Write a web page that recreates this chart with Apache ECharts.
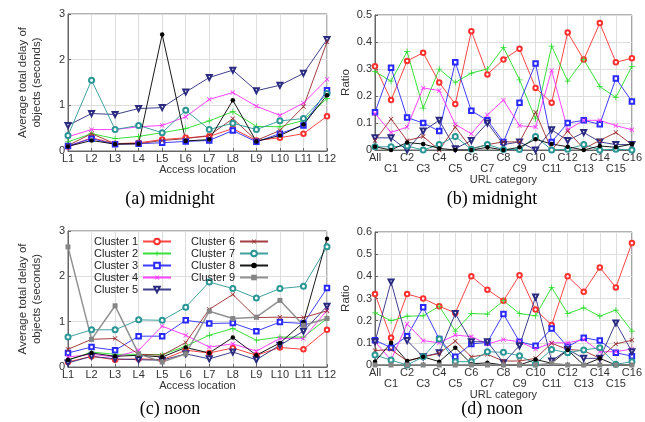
<!DOCTYPE html>
<html>
<head>
<meta charset="utf-8">
<script src="https://cdn.jsdelivr.net/npm/echarts@6/dist/echarts.min.js"></script>
<style>
  html, body { margin: 0; padding: 0; background: #fff; }
  #chart { width: 645px; height: 422px; }
</style>
</head>
<body>
<div id="chart"></div>
<script>
const locations = ['L1', 'L2', 'L3', 'L4', 'L5', 'L6', 'L7', 'L8', 'L9', 'L10', 'L11', 'L12'];
const urlCats = ['All', 'C1', 'C2', 'C3', 'C4', 'C5', 'C6', 'C7', 'C8', 'C9', 'C10', 'C11', 'C12', 'C13', 'C14', 'C15', 'C16'];
const clusterNames = ['Cluster 1', 'Cluster 2', 'Cluster 3', 'Cluster 4', 'Cluster 5', 'Cluster 6', 'Cluster 7', 'Cluster 8', 'Cluster 9'];

// (a) midnight, delay per access location, one row per cluster
const delayMidnight = [
  [0.10, 0.29, 0.16, 0.18, 0.25, 0.29, 0.32, 0.49, 0.23, 0.29, 0.38, 0.76],
  [0.20, 0.38, 0.27, 0.32, 0.40, 0.49, 0.66, 0.86, 0.54, 0.53, 0.67, 1.15],
  [0.11, 0.27, 0.15, 0.16, 0.18, 0.21, 0.23, 0.45, 0.20, 0.38, 0.56, 1.33],
  [0.31, 0.47, 0.47, 0.53, 0.56, 0.75, 1.13, 1.28, 0.98, 0.78, 1.05, 1.57],
  [0.56, 0.82, 0.80, 0.93, 0.95, 1.29, 1.61, 1.77, 1.32, 1.44, 1.70, 2.44],
  [0.12, 0.38, 0.16, 0.16, 0.23, 0.27, 0.34, 0.71, 0.23, 0.45, 0.97, 2.39],
  [0.34, 1.55, 0.47, 0.56, 0.40, 0.89, 0.47, 0.61, 0.47, 0.66, 0.71, 1.26],
  [0.10, 0.23, 0.15, 0.16, 2.55, 0.22, 0.25, 1.11, 0.21, 0.34, 0.58, 1.22],
  null
];

// (b) midnight, ratio per URL category
const ratioMidnight = [
  [0.31, 0.185, 0.33, 0.36, 0.25, 0.17, 0.44, 0.28, 0.335, 0.375, 0.23, 0.175, 0.435, 0.335, 0.47, 0.325, 0.34],
  [0.29, 0.255, 0.365, 0.155, 0.30, 0.25, 0.285, 0.30, 0.38, 0.26, 0.115, 0.385, 0.255, 0.335, 0.235, 0.195, 0.31],
  [0.14, 0.305, 0.12, 0.10, 0.07, 0.325, 0.145, 0.11, 0.03, 0.175, 0.32, 0.03, 0.10, 0.11, 0.095, 0.265, 0.18],
  [0.135, 0.065, 0.085, 0.23, 0.22, 0.095, 0.06, 0.13, 0.185, 0.09, 0.085, 0.295, 0.075, 0.11, 0.11, 0.09, 0.075],
  [0.045, 0.045, 0.0, 0.07, 0.11, 0.005, 0.035, 0.10, 0.02, 0.03, 0.0, 0.075, 0.035, 0.065, 0.03, 0.02, 0.02],
  [0.035, 0.115, 0.035, 0.05, 0.0, 0.085, 0.005, 0.02, 0.03, 0.03, 0.14, 0.0, 0.07, 0.005, 0.035, 0.065, 0.02],
  [0.012, 0.012, 0.015, 0.0, 0.02, 0.05, 0.003, 0.02, 0.002, 0.002, 0.05, 0.0, 0.003, 0.02, 0.0, 0.003, 0.0],
  [0.012, 0.0, 0.028, 0.022, 0.006, 0.0, 0.0, 0.01, 0.0, 0.01, 0.04, 0.022, 0.012, 0.0, 0.015, 0.01, 0.022],
  null
];

// (c) noon
const delayNoon = [
  [0.11, 0.235, 0.16, 0.18, 0.16, 0.37, 0.31, 0.42, 0.26, 0.43, 0.39, 0.82],
  [0.15, 0.33, 0.28, 0.28, 0.27, 0.46, 0.70, 0.85, 0.59, 0.66, 0.66, 1.07],
  [0.31, 0.44, 0.37, 0.68, 0.68, 1.03, 0.96, 0.97, 0.79, 0.99, 0.96, 1.74],
  [0.22, 0.28, 0.22, 0.37, 0.90, 0.70, 0.44, 0.51, 0.35, 0.63, 0.63, 1.25],
  [0.09, 0.235, 0.18, 0.16, 0.15, 0.29, 0.18, 0.33, 0.16, 0.48, 0.79, 1.34],
  [0.39, 0.61, 0.63, 0.28, 0.26, 0.54, 1.27, 1.60, 1.09, 1.10, 1.09, 1.24],
  [0.66, 0.82, 0.82, 1.04, 1.03, 1.32, 1.875, 1.73, 1.52, 1.73, 1.78, 2.65],
  [0.16, 0.31, 0.235, 0.26, 0.22, 0.43, 0.31, 0.65, 0.26, 0.53, 0.985, 2.83],
  [2.65, 0.61, 1.35, 0.29, 0.11, 0.29, 1.23, 1.07, 1.10, 1.47, 0.92, 1.07]
];

// (d) noon
const ratioNoon = [
  [0.32, 0.123, 0.32, 0.30, 0.265, 0.235, 0.40, 0.34, 0.29, 0.405, 0.25, 0.18, 0.40, 0.33, 0.44, 0.35, 0.55],
  [0.235, 0.20, 0.22, 0.222, 0.265, 0.153, 0.232, 0.23, 0.29, 0.232, 0.222, 0.35, 0.232, 0.258, 0.22, 0.248, 0.153],
  [0.112, 0.078, 0.13, 0.26, 0.117, 0.037, 0.095, 0.102, 0.23, 0.105, 0.087, 0.165, 0.082, 0.123, 0.11, 0.055, 0.04],
  [0.105, 0.022, 0.185, 0.11, 0.10, 0.135, 0.128, 0.095, 0.115, 0.105, 0.072, 0.10, 0.10, 0.115, 0.06, 0.06, 0.072],
  [0.105, 0.375, 0.11, 0.037, 0.055, 0.232, 0.105, 0.105, 0.01, 0.087, 0.307, 0.018, 0.07, 0.03, 0.03, 0.19, 0.06],
  [0.065, 0.07, 0.018, 0.037, 0.052, 0.108, 0.037, 0.048, 0.018, 0.018, 0.03, 0.098, 0.07, 0.065, 0.03, 0.095, 0.112],
  [0.045, 0.022, 0.0, 0.037, 0.117, 0.015, 0.015, 0.06, 0.057, 0.042, 0.005, 0.07, 0.055, 0.068, 0.078, 0.003, 0.015],
  [0.015, 0.10, 0.018, 0.037, 0.015, 0.078, 0.005, 0.01, 0.0, 0.0, 0.025, 0.008, 0.068, 0.0, 0.03, 0.0, 0.0],
  [0.0, 0.0, 0.0, 0.0, 0.0, 0.0, 0.0, 0.0, 0.0, 0.0, 0.0, 0.008, 0.0, 0.0, 0.0, 0.0, 0.0]
];

const PLUS = 'path://M4.4,0H5.6V4.4H10V5.6H5.6V10H4.4V5.6H0V4.4H4.4Z';
const styles = [
  { color: '#ff3030', symbol: 'emptyCircle', rot: 0, size: 4.5 },
  { color: '#22dd22', symbol: PLUS, rot: 0, size: 6 },
  { color: '#2828ff', symbol: 'emptyRect', rot: 0, size: 4.5 },
  { color: '#ff30ff', symbol: PLUS, rot: 45, size: 6 },
  { color: '#2a2a80', symbol: 'emptyTriangle', rot: 180, size: 5 },
  { color: '#9a2a2a', symbol: PLUS, rot: 45, size: 6 },
  { color: '#2a9696', symbol: 'emptyCircle', rot: 0, size: 5 },
  { color: '#000000', symbol: 'circle', rot: 0, size: 4.5 },
  { color: '#858585', symbol: 'rect', rot: 0, size: 5 }
];

const font = 'Liberation Sans, Arial, sans-serif';
const grids = [
  { left: 68, top: 14, width: 259, height: 137 },
  { left: 375, top: 15, width: 260, height: 135 },
  { left: 68, top: 231, width: 259, height: 136 },
  { left: 375, top: 232, width: 260, height: 133 }
];

function xAxis(idx, cats, name, twoRows) {
  return {
    type: 'category', gridIndex: idx, data: cats, boundaryGap: false,
    name: name, nameLocation: 'middle', nameGap: twoRows ? 22 : 12,
    nameTextStyle: { fontFamily: font, fontSize: 11, color: '#333' },
    axisLine: { lineStyle: { color: '#666' } },
    axisTick: { inside: true, length: 3, lineStyle: { color: '#666' } },
    axisLabel: {
      interval: 0, margin: 2, fontFamily: font, fontSize: 11, color: '#333', lineHeight: 11,
      formatter: (v, i) => (twoRows && i % 2 === 1 ? '\n' + v : v)
    },
    splitLine: { show: true, interval: 0, lineStyle: { color: '#dedede' } }
  };
}

function yAxis(idx, max, interval, name, gap) {
  return {
    type: 'value', gridIndex: idx, min: 0, max: max, interval: interval,
    name: name, nameLocation: 'middle', nameGap: gap, nameRotate: 90,
    nameTextStyle: { fontFamily: font, fontSize: 11.5, color: '#333', lineHeight: 14 },
    axisLine: { show: true, lineStyle: { color: '#666' } },
    axisTick: { show: true, inside: true, length: 3, lineStyle: { color: '#666' } },
    axisLabel: { margin: 3, fontFamily: font, fontSize: 11, color: '#333' },
    splitLine: { show: true, lineStyle: { color: '#dedede' } }
  };
}

function panelSeries(rows, idx) {
  const out = [];
  rows.forEach((vals, k) => {
    if (!vals) return;
    const s = styles[k];
    out.push({
      name: clusterNames[k], type: 'line', xAxisIndex: idx, yAxisIndex: idx,
      data: vals, symbol: s.symbol, symbolRotate: s.rot, symbolSize: s.size,
      showAllSymbol: true, animation: false,
      lineStyle: { width: k === 8 ? 1.5 : 1, color: s.color, opacity: 0.9 },
      itemStyle: { color: s.color, borderWidth: 0.9 }
    });
  });
  return out;
}

const yName = 'Average total delay of\nobjects (seconds)';

function title(text, x, y) {
  return {
    type: 'text', x: x, y: y,
    style: { text: text, fontFamily: 'Liberation Serif, Times New Roman, serif', fontSize: 18, fill: '#000', textAlign: 'center', textVerticalAlign: 'middle' }
  };
}

const legendBase = {
  orient: 'vertical', align: 'right', top: 231, itemWidth: 28, itemHeight: 7, itemGap: 1,
  selectedMode: false,
  textStyle: { fontFamily: font, fontSize: 11, color: '#222', lineHeight: 11 }
};

const chart = echarts.init(document.getElementById('chart'));
chart.setOption({
  animation: false,
  backgroundColor: '#fff',
  grid: grids.map(g => Object.assign({ show: true, borderColor: '#666', borderWidth: 1, backgroundColor: 'transparent' }, g)),
  xAxis: [
    xAxis(0, locations, 'Access location', false),
    xAxis(1, urlCats, 'URL category', true),
    xAxis(2, locations, 'Access location', false),
    xAxis(3, urlCats, 'URL category', true)
  ],
  yAxis: [
    yAxis(0, 3, 1, yName, 24),
    yAxis(1, 0.5, 0.1, 'Ratio', 21),
    yAxis(2, 3, 1, yName, 24),
    yAxis(3, 0.6, 0.1, 'Ratio', 21)
  ],
  legend: [
    Object.assign({}, legendBase, { left: 89, data: clusterNames.slice(0, 5) }),
    Object.assign({}, legendBase, { left: 186, data: clusterNames.slice(5) })
  ],
  graphic: [
    title('(a) midnight', 170, 199),
    title('(b) midnight', 492, 199),
    title('(c) noon', 170, 409),
    title('(d) noon', 492, 409)
  ],
  series: [].concat(
    panelSeries(delayMidnight, 0),
    panelSeries(ratioMidnight, 1),
    panelSeries(delayNoon, 2),
    panelSeries(ratioNoon, 3)
  )
});
</script>
</body>
</html>
